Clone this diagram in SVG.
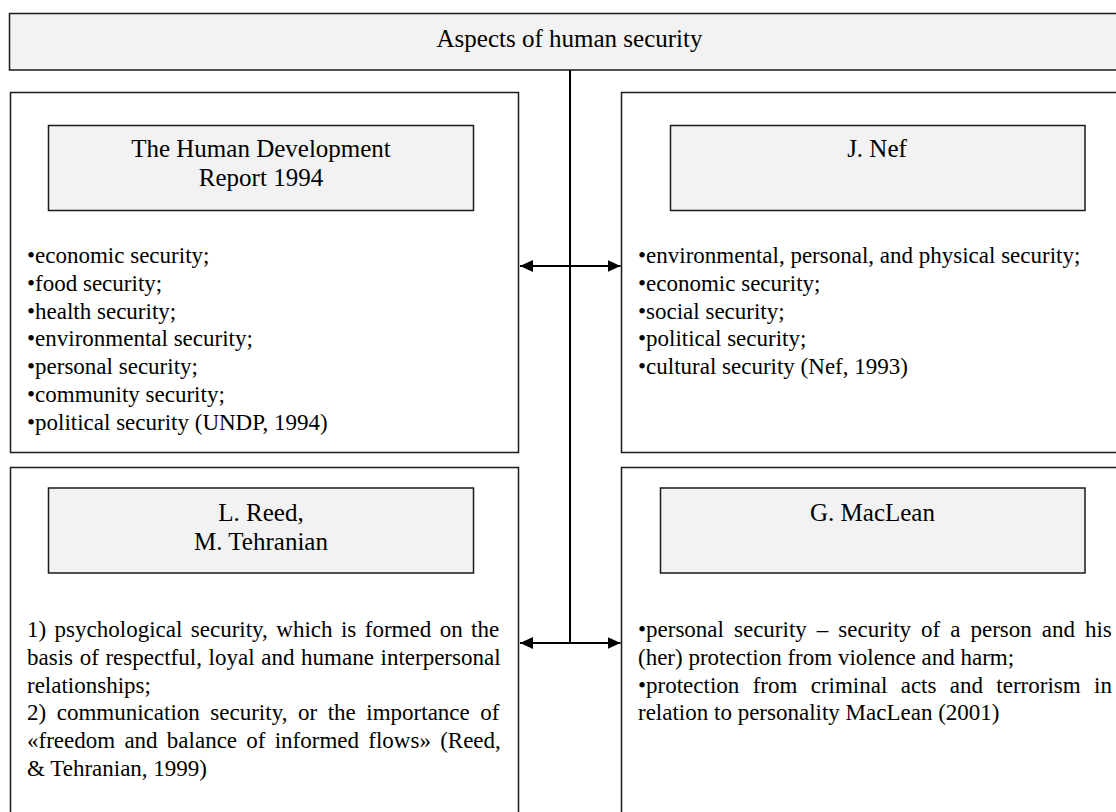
<svg xmlns="http://www.w3.org/2000/svg" width="1116" height="812" viewBox="0 0 1116 812">
<style>
  .box { fill: #ffffff; stroke: #1a1a1a; stroke-width: 1.5; }
  .hdr { fill: #f2f2f2; stroke: #1a1a1a; stroke-width: 1.5; }
  .t { font-family: "Liberation Serif", "Times New Roman", serif; fill: #000; }
  .h { font-size: 25px; text-anchor: middle; }
  .b { font-size: 23px; }
  .conn { stroke: #000; stroke-width: 2; fill: none; }
</style>
<defs>
  <marker id="ah" markerUnits="userSpaceOnUse" markerWidth="14" markerHeight="12" refX="13" refY="6" orient="auto-start-reverse">
    <path d="M0,0 L13,6 L0,12 Z" fill="#000"/>
  </marker>
</defs>
<rect width="1116" height="812" fill="#ffffff"/>

<g id="title">
  <rect class="hdr" x="9.5" y="13.5" width="1120" height="56.5"/>
  <text class="t h" x="569.5" y="47">Aspects of human security</text>
</g>

<g id="connectors">
  <line class="conn" x1="570" y1="70" x2="570" y2="643"/>
  <line class="conn" x1="520" y1="266" x2="620.5" y2="266" marker-start="url(#ah)" marker-end="url(#ah)"/>
  <line class="conn" x1="520" y1="643" x2="620.5" y2="643" marker-start="url(#ah)" marker-end="url(#ah)"/>
</g>

<g id="node-hdr">
  <rect class="box" x="10.5" y="92.5" width="508" height="360"/>
  <rect class="hdr" x="48.5" y="125.5" width="425" height="85"/>
  <text class="t h" x="261" y="157">The Human Development</text>
  <text class="t h" x="261" y="186">Report 1994</text>
  <text class="t b" x="27">
    <tspan x="27" y="263">•economic security;</tspan>
    <tspan x="27" y="290.8">•food security;</tspan>
    <tspan x="27" y="318.6">•health security;</tspan>
    <tspan x="27" y="346.4">•environmental security;</tspan>
    <tspan x="27" y="374.2">•personal security;</tspan>
    <tspan x="27" y="402">•community security;</tspan>
    <tspan x="27" y="429.8">•political security (UNDP, 1994)</tspan>
  </text>
</g>

<g id="node-nef">
  <rect class="box" x="621.5" y="92.5" width="600" height="360"/>
  <rect class="hdr" x="670.5" y="125.5" width="414.5" height="85"/>
  <text class="t h" x="877" y="157">J. Nef</text>
  <text class="t b">
    <tspan x="638" y="263">•environmental, personal, and physical security;</tspan>
    <tspan x="638" y="290.8">•economic security;</tspan>
    <tspan x="638" y="318.6">•social security;</tspan>
    <tspan x="638" y="346.4">•political security;</tspan>
    <tspan x="638" y="374.2">•cultural security (Nef, 1993)</tspan>
  </text>
</g>

<g id="node-reed">
  <rect class="box" x="10.5" y="467.5" width="508" height="400"/>
  <rect class="hdr" x="48.5" y="488" width="425" height="85"/>
  <text class="t h" x="261" y="521">L. Reed,</text>
  <text class="t h" x="261" y="550">M. Tehranian</text>
  <text class="t b" x="27" y="637" style="word-spacing:2.7px">1) psychological security, which is formed on the</text>
  <text class="t b" x="27" y="664.8" style="word-spacing:0.9px">basis of respectful, loyal and humane interpersonal</text>
  <text class="t b" x="27" y="692.6">relationships;</text>
  <text class="t b" x="27" y="720.4" style="word-spacing:4.8px">2) communication security, or the importance of</text>
  <text class="t b" x="27" y="748.2" style="word-spacing:3.5px">«freedom and balance of informed flows» (Reed,</text>
  <text class="t b" x="27" y="776">&amp; Tehranian, 1999)</text>
</g>

<g id="node-maclean">
  <rect class="box" x="621.5" y="467.5" width="600" height="400"/>
  <rect class="hdr" x="660.5" y="488" width="424.5" height="85"/>
  <text class="t h" x="872.5" y="521">G. MacLean</text>
  <text class="t b" x="638" y="637" style="word-spacing:4.25px">•personal security – security of a person and his</text>
  <text class="t b" x="638" y="664.8">(her) protection from violence and harm;</text>
  <text class="t b" x="638" y="692.6" style="word-spacing:7.6px">•protection from criminal acts and terrorism in</text>
  <text class="t b" x="638" y="720.4">relation to personality MacLean (2001)</text>
</g>
</svg>
